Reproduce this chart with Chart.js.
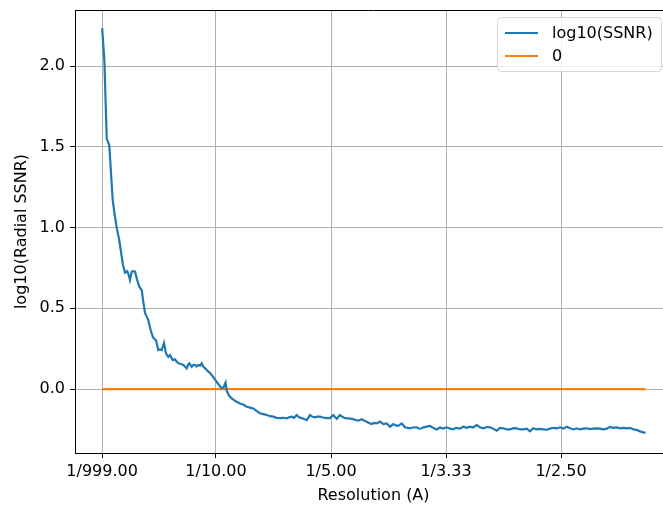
<!DOCTYPE html>
<html>
<head>
<meta charset="utf-8">
<script src="https://cdn.jsdelivr.net/npm/chart.js@4.4.0/dist/chart.umd.min.js"></script>
<style>
  html, body { margin: 0; padding: 0; background: #fff; overflow: hidden; }
  #wrap { position: absolute; left: 0; top: 0; width: 663px; height: 508px; overflow: hidden; }
</style>
</head>
<body>
<div id="wrap"><canvas id="chart" width="680" height="508"></canvas></div>
<script>
// spatial frequency (1/A) and log10(SSNR)
const freq = [
  0.001, 0.0029, 0.0050, 0.0072, 0.0102, 0.0122, 0.0139, 0.0157, 0.0174, 0.0191,
  0.0209, 0.0229, 0.0243, 0.0252, 0.0267, 0.0283, 0.0296, 0.0313, 0.0333, 0.0354,
  0.0370, 0.0383, 0.0397, 0.0411, 0.0430, 0.0450, 0.0463, 0.0478, 0.0489, 0.0498,
  0.0513, 0.0528, 0.0548, 0.0565, 0.0585, 0.0600, 0.0623, 0.0643, 0.0658, 0.0672,
  0.0696, 0.0716, 0.0730, 0.0745, 0.0757, 0.0768, 0.0789, 0.0803, 0.0817, 0.0832,
  0.0846, 0.0861, 0.0876, 0.0890, 0.0904, 0.0919, 0.0939, 0.0963, 0.0983, 0.1006,
  0.1026, 0.1050, 0.1065, 0.1083, 0.1093, 0.1113, 0.1137, 0.1157, 0.1180, 0.1209,
  0.1235, 0.1267, 0.1296, 0.1324, 0.1352, 0.1383, 0.1411, 0.1441, 0.1470, 0.1498,
  0.1528, 0.1557, 0.1585, 0.1615, 0.1635, 0.1658, 0.1678, 0.1702, 0.1722, 0.1745,
  0.1765, 0.1789, 0.1804, 0.1817, 0.1839, 0.1861, 0.1883, 0.1904, 0.1930, 0.1963,
  0.1991, 0.2020, 0.2050, 0.2078, 0.2100, 0.2122, 0.2150, 0.2180, 0.2209, 0.2237,
  0.2267, 0.2287, 0.2310, 0.2330, 0.2354, 0.2374, 0.2397, 0.2426, 0.2455, 0.2484,
  0.2513, 0.2542, 0.2563, 0.2585, 0.2615, 0.2643, 0.2687, 0.2713, 0.2745, 0.2765,
  0.2789, 0.2809, 0.2832, 0.2861, 0.2887, 0.2919, 0.2948, 0.2974, 0.3006, 0.3035,
  0.3061, 0.3087, 0.3122, 0.3150, 0.3180, 0.3209, 0.3235, 0.3267, 0.3296, 0.3324,
  0.3354, 0.3383, 0.3409, 0.3441, 0.3470, 0.3498, 0.3528, 0.3557, 0.3585, 0.3615,
  0.3643, 0.3672, 0.3702, 0.3730, 0.3759, 0.3789, 0.3817, 0.3846, 0.3876, 0.3904,
  0.3933, 0.3963, 0.3991, 0.4020, 0.4050, 0.4078, 0.4107, 0.4137, 0.4165, 0.4194,
  0.4224, 0.4252, 0.4281, 0.4311, 0.4339, 0.4368, 0.4398, 0.4426, 0.4452, 0.4484,
  0.4513, 0.4542, 0.4571, 0.4600, 0.4629, 0.4658, 0.4687, 0.4716, 0.4735
];
const ssnr = [
  2.235, 2.04, 1.55, 1.51, 1.17, 1.065, 0.99, 0.93, 0.85, 0.77,
  0.72, 0.73, 0.70, 0.675, 0.727, 0.73, 0.727, 0.68, 0.634, 0.613,
  0.53, 0.47, 0.45, 0.427, 0.37, 0.324, 0.31, 0.303, 0.27, 0.241,
  0.245, 0.241, 0.285, 0.221, 0.20, 0.21, 0.18, 0.184, 0.17, 0.159,
  0.155, 0.149, 0.14, 0.128, 0.15, 0.159, 0.138, 0.15, 0.149, 0.14,
  0.149, 0.145, 0.159, 0.138, 0.13, 0.118, 0.105, 0.087, 0.068, 0.045,
  0.025, 0.004, 0.01, 0.04, -0.01, -0.04, -0.058, -0.068, -0.079, -0.089,
  -0.096, -0.11, -0.115, -0.12, -0.135, -0.15, -0.155, -0.161, -0.168, -0.171,
  -0.178, -0.18, -0.178, -0.182, -0.175, -0.171, -0.178, -0.161, -0.175, -0.18,
  -0.185, -0.192, -0.175, -0.161, -0.172, -0.175, -0.17, -0.171, -0.176, -0.18,
  -0.18, -0.161, -0.185, -0.161, -0.172, -0.18, -0.182, -0.185, -0.19, -0.196,
  -0.187, -0.195, -0.202, -0.21, -0.217, -0.21, -0.213, -0.202, -0.217, -0.213,
  -0.233, -0.217, -0.225, -0.228, -0.213, -0.237, -0.243, -0.238, -0.237, -0.245,
  -0.243, -0.236, -0.233, -0.229, -0.24, -0.25, -0.238, -0.245, -0.237, -0.245,
  -0.25, -0.24, -0.245, -0.233, -0.24, -0.233, -0.238, -0.223, -0.237, -0.243,
  -0.235, -0.237, -0.245, -0.258, -0.24, -0.243, -0.25, -0.25, -0.242, -0.243,
  -0.25, -0.25, -0.245, -0.262, -0.243, -0.25, -0.247, -0.25, -0.252, -0.245,
  -0.24, -0.243, -0.237, -0.245, -0.234, -0.243, -0.25, -0.243, -0.25, -0.245,
  -0.243, -0.248, -0.245, -0.243, -0.245, -0.25, -0.245, -0.234, -0.24, -0.238,
  -0.243, -0.24, -0.243, -0.24, -0.25, -0.253, -0.262, -0.268, -0.272
];
const zeroX = [0.001, 0.4735];
const zeroY = [0, 0];
const xTicks = [0.001, 0.1, 0.2, 0.3, 0.4];
const xTickLabels = ['1/999.00', '1/10.00', '1/5.00', '1/3.33', '1/2.50'];
const yTicks = [0, 0.5, 1.0, 1.5, 2.0];
const seriesNames = ['log10(SSNR)', '0'];

const FONT = 'DejaVu Sans';
const FS = 16;

// top spine + legend box like matplotlib
const frameAndLegend = {
  id: 'frameAndLegend',
  afterDraw(chart) {
    const ctx = chart.ctx, a = chart.chartArea;
    ctx.save();
    ctx.strokeStyle = '#000';
    ctx.lineWidth = 1;
    ctx.beginPath();
    ctx.moveTo(a.left, a.top + 0.5);
    ctx.lineTo(a.right, a.top + 0.5);
    ctx.stroke();

    // legend
    const bx = 497, by = 17, bw = 164, bh = 54, r = 4;
    ctx.fillStyle = 'rgba(255,255,255,0.8)';
    ctx.strokeStyle = '#d6d6d6';
    ctx.beginPath();
    ctx.roundRect(bx + 0.5, by + 0.5, bw, bh, r);
    ctx.fill();
    ctx.stroke();
    ctx.font = FS + 'px "' + FONT + '"';
    ctx.textBaseline = 'middle';
    ctx.textAlign = 'left';
    chart.data.datasets.forEach((ds, i) => {
      const yy = by + 16 + i * 23;
      ctx.strokeStyle = ds.borderColor;
      ctx.lineWidth = 2;
      ctx.beginPath();
      ctx.moveTo(bx + 8, yy);
      ctx.lineTo(bx + 41, yy);
      ctx.stroke();
      ctx.fillStyle = '#000';
      ctx.fillText(ds.label, bx + 55, yy + 1);
    });
    ctx.restore();
  }
};

new Chart(document.getElementById('chart'), {
  type: 'line',
  data: {
    datasets: [
      {
        label: seriesNames[0],
        data: freq.map((f, i) => ({ x: f, y: ssnr[i] })),
        borderColor: '#1f77b4',
        borderWidth: 2.2,
        pointRadius: 0,
        tension: 0,
        fill: false
      },
      {
        label: seriesNames[1],
        data: zeroX.map((f, i) => ({ x: f, y: zeroY[i] })),
        borderColor: '#ff7f0e',
        borderWidth: 2.2,
        pointRadius: 0,
        fill: false
      }
    ]
  },
  options: {
    responsive: false,
    animation: false,
    layout: { padding: { left: 0, right: 8, top: 10, bottom: 0 } },
    plugins: {
      legend: { display: false },
      tooltip: { enabled: false }
    },
    scales: {
      x: {
        type: 'linear',
        min: -0.0226,
        max: 0.4965,
        afterBuildTicks: (s) => { s.ticks = xTicks.map(v => ({ value: v })); },
        afterFit: (s) => { s.height = 55; s.paddingLeft = 0; s.paddingRight = 0; },
        ticks: {
          color: '#000',
          font: { family: FONT, size: FS },
          padding: 4,
          maxRotation: 0,
          autoSkip: false,
          callback: (v, i) => xTickLabels[i]
        },
        grid: { color: '#b0b0b0', lineWidth: 1, tickLength: 5, tickColor: '#000' },
        border: { color: '#000', width: 1 },
        title: {
          display: true,
          text: 'Resolution (A)',
          color: '#000',
          font: { family: FONT, size: FS },
          padding: { top: 0, bottom: 3 }
        }
      },
      y: {
        min: -0.396,
        max: 2.347,
        afterBuildTicks: (s) => { s.ticks = yTicks.map(v => ({ value: v })); },
        afterFit: (s) => { s.width = 75; s.paddingTop = 0; s.paddingBottom = 0; },
        ticks: {
          color: '#000',
          font: { family: FONT, size: FS },
          padding: 5,
          callback: (v) => v.toFixed(1)
        },
        grid: { color: '#b0b0b0', lineWidth: 1, tickLength: 5, tickColor: '#000' },
        border: { color: '#000', width: 1 },
        title: {
          display: true,
          text: 'log10(Radial SSNR)',
          color: '#000',
          font: { family: FONT, size: FS },
          padding: { top: 12, bottom: 0 }
        }
      }
    }
  },
  plugins: [frameAndLegend]
});
</script>
</body>
</html>
